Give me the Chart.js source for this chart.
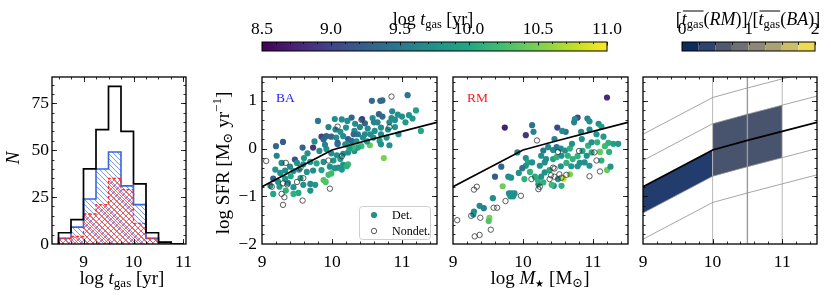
<!DOCTYPE html>
<html>
<head>
<meta charset="utf-8">
<title>gas depletion time panels</title>
<script src="https://cdn.jsdelivr.net/npm/chart.js@4.4.1/dist/chart.umd.min.js"></script>
<style>
  html, body { margin: 0; padding: 0; background: #ffffff; }
  #fig { position: relative; width: 831px; height: 300px; overflow: hidden; background: #ffffff; }
  #fig canvas { position: absolute; left: 0; top: 0; }
</style>
</head>
<body>
<div id="fig">
  <canvas id="cbarT" width="831" height="300"></canvas>
  <canvas id="cbarR" width="831" height="300"></canvas>
  <canvas id="hist" width="831" height="300"></canvas>
  <canvas id="ba" width="831" height="300"></canvas>
  <canvas id="rm" width="831" height="300"></canvas>
  <canvas id="ratio" width="831" height="300"></canvas>
</div>
<script>
// ---- histogram of log t_gas ----
const binEdges = [8.5, 8.75, 9.0, 9.25, 9.5, 9.75, 10.0, 10.25, 10.5, 10.75, 11.0];
const histAll = [1, 6, 13, 40, 61, 84, 60, 32, 6, 1];
const histBA  = [0, 3, 9, 24, 40, 49, 31, 21, 3, 0];
const histRM  = [1, 3, 4, 16, 21, 35, 29, 11, 3, 1];

// ---- star-forming main sequence and offsets ----
const msMass = [9.0, 10.0, 10.5, 11.0, 11.5];
const msSfr  = [-0.80, -0.03, 0.17, 0.36, 0.55];
const msOffsets = [1.1, 0.55, -0.55, -1.1];

// ---- BA sample ----
const baMass = [
  11.08, 10.57, 10.69, 10.72, 10.28, 10.43, 10.47, 10.58, 10.67, 10.72,
  10.86, 10.85, 10.94, 11.00, 11.15, 11.20, 11.27, 10.82, 10.70, 10.61,
  10.51, 10.32, 10.37, 10.31, 10.47, 10.59, 10.70, 10.78, 10.23, 10.28,
  10.44, 10.42, 10.54, 10.37, 10.32, 10.68, 10.70, 10.82, 10.74, 10.23,
  10.23, 9.80, 10.14, 10.22, 10.20, 9.85, 9.88, 9.92, 9.99, 10.06,
  10.16, 10.08, 10.19, 9.20, 9.30, 9.58, 9.73, 9.47, 9.82, 9.92,
  9.99, 10.07, 10.16, 9.21, 9.40, 9.59, 9.69, 9.78, 9.88, 9.97,
  10.04, 10.16, 9.95, 9.99, 9.88, 9.91, 9.19, 9.26, 9.33, 9.45,
  9.53, 9.64, 9.73, 9.16, 9.23, 9.33, 9.41, 9.59, 9.69, 9.76,
  9.37, 9.16, 9.34, 9.45, 9.52, 9.69, 10.09, 10.14, 10.21, 10.30,
  10.08, 10.21, 10.04, 10.90, 11.05, 10.95, 10.60, 10.50, 10.40, 10.33,
  10.12, 9.95, 9.65, 9.75, 9.60, 9.90, 10.02, 10.12, 9.55, 9.28,
  9.50, 9.85, 10.05, 10.25, 10.35, 10.55, 10.65, 10.80, 10.90, 11.10,
  9.45, 9.25, 9.12
];
const baSfr = [
  1.12, 1.00, 1.00, 1.01, 0.65, 0.62, 0.53, 0.64, 0.72, 0.67,
  0.78, 0.64, 0.71, 0.67, 0.63, 0.80, 0.37, 0.55, 0.44, 0.37,
  0.42, 0.37, 0.30, 0.30, 0.30, 0.23, 0.30, 0.23, 0.20, 0.16,
  0.23, 0.05, 0.07, 0.02, -0.05, 0.16, 0.09, 0.07, -0.20, -0.08,
  -0.33, 0.58, 0.61, 0.58, 0.44, 0.25, 0.19, 0.26, 0.25, 0.23,
  0.26, 0.12, 0.09, 0.05, 0.14, 0.02, 0.02, -0.23, -0.05, -0.01,
  -0.10, -0.14, -0.11, -0.15, -0.38, -0.33, -0.28, -0.31, -0.28, -0.38,
  -0.41, -0.34, -0.55, -0.52, -0.66, -0.70, -0.44, -0.51, -0.46, -0.47,
  -0.44, -0.49, -0.46, -0.63, -0.70, -0.63, -0.58, -0.76, -0.74, -0.76,
  -0.72, -0.95, -0.88, -0.81, -0.93, -0.88, -0.40, -0.44, -0.37, 0.02,
  0.09, 0.09, 0.62, 0.45, 0.55, 0.30, 0.55, 0.15, 0.45, 0.52,
  0.35, 0.45, -0.10, 0.15, -0.20, 0.08, -0.25, -0.22, -0.62, -0.30,
  -0.30, -0.45, 0.40, 0.00, 0.15, 0.30, 0.55, 0.40, 0.60, 0.70,
  -0.95, -0.80, -0.78
];
const baTgas = [
  9.5, 9.35, 9.35, 9.35, 9.3, 9.1, 9.3, 9.7, 9.3, 9.35,
  9.7, 9.7, 9.75, 9.75, 9.8, 9.9, 10.0, 9.7, 9.7, 9.75,
  9.7, 9.7, 9.5, 9.35, 9.7, 9.75, 9.7, 9.8, 9.2, 9.35,
  9.7, 10.2, 10.4, 10.0, 9.75, 9.9, 9.75, 9.75, 10.5, 9.75,
  10.2, 9.5, 9.7, 9.7, 9.75, 9.0, 9.35, 9.3, 9.35, 9.7,
  9.7, 9.2, 9.7, 9.3, 9.2, 9.3, 8.9, 9.1, 9.7, 9.75,
  9.7, 9.75, 9.7, 9.6, 9.7, 9.7, 9.75, 10.0, 9.75, 9.75,
  9.8, 9.75, 10.2, 10.2, 10.3, 10.3, 9.8, 9.75, 9.7, 9.75,
  9.7, 9.8, 9.7, 9.2, 9.75, 9.8, 10.0, 9.75, 9.7, 9.8,
  9.7, 10.0, 10.1, 9.75, 10.0, 9.75, 9.75, 9.8, 10.1, 10.2,
  9.4, 9.75, 9.75, 9.8, 9.85, 9.8, 9.6, 9.8, 9.6, 9.7,
  9.75, 9.6, 9.75, 9.7, 9.8, 9.6, 9.8, 9.9, 9.85, 9.7,
  9.75, 9.9, 9.6, 9.9, 9.75, 9.7, 9.65, 9.75, 9.7, 9.8,
  10.1, 9.9, 9.7
];
const baNdMass = [10.85, 10.08, 10.42, 10.82, 10.14, 9.95, 9.06, 9.34, 9.30, 9.50,
  9.59, 9.14, 9.28, 9.30, 9.32, 9.58, 9.97, 9.55, 9.36];
const baNdSfr = [1.09, 0.46, 0.60, 0.45, -0.16, -0.25, -0.26, -0.30, -0.73, -0.70,
  -0.62, -0.80, -0.95, -1.18, -1.02, -1.09, -0.84, -0.40, -0.75];

// ---- RM sample ----
const rmMass = [
  11.20, 9.74, 10.04, 10.49, 10.78, 10.13, 10.15, 9.92, 10.04, 10.07,
  10.04, 10.13, 9.99, 10.10, 10.02, 9.94, 9.69, 9.60, 9.79, 9.83,
  10.17, 10.22, 9.71, 9.80, 9.84, 9.88, 9.57, 9.38, 9.30, 9.52,
  10.74, 10.73, 10.92, 10.95, 10.61, 10.56, 10.83, 10.84, 11.08, 11.12,
  10.29, 10.36, 10.43, 10.48, 10.54, 10.60, 10.67, 10.93, 10.98, 11.06,
  11.10, 11.17, 11.22, 11.29, 11.36, 11.23, 10.98, 10.91, 10.26, 10.33,
  10.43, 10.48, 10.55, 10.64, 10.71, 10.81, 11.12, 10.24, 10.31, 10.54,
  10.62, 10.69, 10.78, 10.88, 10.95, 10.21, 10.26, 10.29, 10.31, 10.58,
  10.67, 10.50, 10.44, 10.55, 10.41, 11.20, 11.25, 9.82, 9.86, 9.44,
  9.29, 9.51, 11.05, 11.15, 10.70, 10.45, 10.38, 10.85, 10.78, 10.95
];
const rmSfr = [
  1.07, 0.44, 0.28, 0.44, 0.65, 0.49, 0.35, -0.08, -0.20, -0.29,
  -0.36, -0.29, -0.41, -0.49, -0.64, -0.51, -0.38, -0.59, -0.59, -0.61,
  -0.59, -0.75, -0.79, -0.94, -0.94, -0.94, -1.04, -1.20, -1.32, -1.45,
  0.62, 0.55, 0.63, 0.57, 0.35, 0.37, 0.35, 0.20, 0.52, 0.46,
  -0.04, 0.03, -0.03, 0.03, 0.00, -0.04, 0.00, 0.06, 0.13, 0.13,
  -0.07, 0.05, 0.12, 0.10, 0.10, -0.07, -0.08, -0.15, -0.15, -0.22,
  -0.22, -0.18, -0.15, -0.15, -0.22, -0.30, -0.25, -0.36, -0.29, -0.37,
  -0.30, -0.37, -0.37, -0.29, -0.36, -0.66, -0.59, -0.71, -0.50, -0.63,
  -0.54, -0.64, -0.78, -0.78, -0.76, -0.45, -0.38, -1.00, -1.00, -1.25,
  -1.38, -1.52, 0.30, 0.25, 0.10, 0.20, -0.45, -0.05, -0.16, 0.40
];
const rmTgas = [
  8.8, 8.7, 8.9, 9.0, 9.05, 9.45, 9.6, 9.6, 9.75, 10.0,
  9.8, 9.75, 9.45, 10.1, 10.1, 9.75, 9.3, 9.2, 9.7, 9.75,
  10.05, 9.75, 10.45, 9.7, 9.7, 9.75, 9.7, 9.65, 9.7, 10.5,
  9.7, 9.6, 9.6, 9.7, 9.5, 9.7, 9.7, 9.75, 9.7, 9.9,
  9.5, 9.7, 9.75, 9.5, 9.7, 9.75, 10.1, 10.1, 9.75, 10.1,
  10.4, 10.2, 10.1, 9.9, 9.8, 10.1, 10.05, 9.75, 9.75, 9.75,
  9.9, 10.1, 9.75, 10.1, 10.1, 9.75, 10.1, 9.75, 9.7, 9.75,
  10.1, 9.8, 9.75, 9.75, 9.8, 10.1, 9.75, 10.1, 9.75, 10.75,
  10.5, 9.75, 9.75, 10.1, 10.2, 10.4, 9.8, 9.75, 9.75, 9.6,
  9.7, 10.3, 9.8, 9.85, 9.75, 9.6, 10.0, 10.0, 10.1, 9.7
];
const rmNdMass = [10.20, 10.12, 9.97, 9.75, 9.30, 9.34, 9.58, 9.63, 9.26, 9.39,
  9.06, 9.54, 9.31, 9.38, 10.50, 10.80, 11.02, 11.05, 10.43, 10.45,
  10.40, 10.45, 10.52, 10.55, 10.38, 10.24, 10.22, 10.95, 11.10, 10.62];
const rmNdSfr = [0.17, -0.64, -0.99, -1.10, -0.86, -0.80, -1.24, -1.24, -1.41, -1.45,
  -1.50, -1.70, -1.84, -1.81, -0.07, -0.05, -0.08, -0.25, -0.40, -0.42,
  -0.56, -0.59, -0.54, -0.61, -0.64, -0.80, -0.85, -0.58, -0.48, -0.55];

// ---- t_gas(RM)/t_gas(BA) in mass bins ----
const cellMassLo = [9.0, 10.0];
const cellMassHi = [10.0, 11.0];
const cellOffLo = [-0.55, -0.55];
const cellOffHi = [0.0, 0.55];
const cellRatio = [0.3, 0.56];
const massGuides = [10.0, 10.5, 11.0];

// ---- axes ----
const massRange = [9.0, 11.5];
const sfrRange = [-2.0, 1.5];
const tgasRange = [8.5, 11.0];
const histXRange = [8.37, 11.05];
const histYRange = [0, 89];
const massTicks = [9, 10, 11];
const sfrTicks = [-2, -1, 0, 1];
const countTicks = [0, 25, 50, 75];
const tgasTicks = [8.5, 9.0, 9.5, 10.0, 10.5, 11.0];
const ratioTicks = [0, 1, 2];
const ratioLevels = [0, 0.25, 0.5, 0.75, 1.0, 1.25, 1.5, 1.75, 2.0];

const VIRIDIS = ['#440154', '#482475', '#414487', '#355f8d', '#2a788e', '#21918c',
  '#22a884', '#44bf70', '#7ad151', '#bddf26', '#fde725'];
const CIVIDIS = ['#00204d', '#1a386f', '#414d6b', '#5f6472', '#7c7b78',
  '#9a9476', '#bcaf6f', '#ddcb5c', '#ffea46'];

const SERIF = '"Liberation Serif", "DejaVu Serif", "Times New Roman", serif';
Chart.defaults.font.family = SERIF;
Chart.defaults.color = '#000';

const W = 831, H = 300, AXW = 40, AXH = 40;
const TICK = 17.5;
const TITLE = 19;
const fnt = (sz, it) => (it ? 'italic ' : '') + sz + 'px ' + SERIF;

function hexRgb(h) {
  const n = parseInt(h.slice(1), 16);
  return [n >> 16 & 255, n >> 8 & 255, n & 255];
}
function cmap(stops, t) {
  t = Math.max(0, Math.min(1, t));
  const n = stops.length - 1;
  const i = Math.min(n - 1, Math.floor(t * n));
  const f = t * n - i;
  const a = hexRgb(stops[i]), b = hexRgb(stops[i + 1]);
  return 'rgb(' + a.map((v, k) => Math.round(v + (b[k] - v) * f)).join(',') + ')';
}
const tgasColor = v => cmap(VIRIDIS, (v - tgasRange[0]) / (tgasRange[1] - tgasRange[0]));
const ratioColor = r => cmap(CIVIDIS, (r - ratioLevels[0]) / (ratioLevels[ratioLevels.length - 1] - ratioLevels[0]));

// text with italic / sub / superscript pieces
function rich(ctx, segs, x, y, align, rot) {
  ctx.save();
  ctx.translate(x, y);
  if (rot) ctx.rotate(rot);
  ctx.textBaseline = 'alphabetic';
  ctx.textAlign = 'left';
  let total = 0;
  segs.forEach(s => { ctx.font = fnt(s.sz, s.it); s.w = ctx.measureText(s.t).width; total += s.w; });
  let cx = align === 'center' ? -total / 2 : (align === 'right' ? -total : 0);
  let olFrom = null;
  segs.forEach((s, i) => {
    ctx.font = fnt(s.sz, s.it);
    ctx.fillStyle = s.c || '#000';
    ctx.fillText(s.t, cx, s.dy || 0);
    if (s.ol && olFrom === null) olFrom = cx;
    cx += s.w;
    if (s.ol && !(segs[i + 1] && segs[i + 1].ol)) {
      ctx.strokeStyle = '#000';
      ctx.lineWidth = 1;
      ctx.beginPath();
      ctx.moveTo(olFrom + 1, -s.ol);
      ctx.lineTo(cx, -s.ol);
      ctx.stroke();
      olFrom = null;
    }
  });
  ctx.restore();
}

function steps(lo, hi, d) {
  const out = [];
  for (let k = 0; lo + k * d <= hi + 1e-9; k++) out.push(+(lo + k * d).toFixed(4));
  return out;
}

function axis(range, vals, o) {
  return {
    type: 'linear', min: range[0], max: range[1], position: o.pos,
    grid: { display: false, drawTicks: false },
    border: { display: false },
    ticks: {
      display: o.labels !== false, padding: o.pad || 0,
      font: { family: SERIF, size: TICK }, color: '#000',
      maxRotation: 0, autoSkip: false, includeBounds: false,
      callback: o.fmt || (v => (v < 0 ? '\u2212' + Math.abs(v) : String(v)))
    },
    afterBuildTicks: s => { s.ticks = vals.map(v => ({ value: v })); },
    afterFit: s => {
      if (s.isHorizontal()) s.height = o.size; else s.width = o.size;
      s.paddingLeft = s.paddingRight = s.paddingTop = s.paddingBottom = 0;
    }
  };
}

function baseOptions(area, x, y) {
  const top = x.position === 'top';
  return {
    responsive: false, animation: false, devicePixelRatio: 1, events: [],
    layout: {
      autoPadding: false,
      padding: {
        left: area.l - (y.display === false ? 0 : AXW),
        right: W - area.r,
        top: top ? area.t - AXH : area.t,
        bottom: top ? H - area.b : H - area.b - AXH
      }
    },
    plugins: { legend: { display: false }, tooltip: { enabled: false } },
    scales: { x: x, y: y }
  };
}

// inward ticks on all four sides plus the frame
function frame(xMaj, xMin, yMaj, yMin) {
  return {
    id: 'frame',
    afterDatasetsDraw(chart) {
      const { ctx, chartArea: a } = chart;
      const sx = chart.scales.x, sy = chart.scales.y;
      ctx.save();
      ctx.strokeStyle = '#000';
      ctx.lineWidth = 0.8;
      ctx.beginPath();
      const vx = (vals, len) => vals.forEach(v => {
        const p = Math.round(sx.getPixelForValue(v)) + 0.5;
        if (p <= a.left + 1 || p >= a.right - 1) return;
        ctx.moveTo(p, a.bottom); ctx.lineTo(p, a.bottom - len);
        ctx.moveTo(p, a.top); ctx.lineTo(p, a.top + len);
      });
      const vy = (vals, len) => vals.forEach(v => {
        const p = Math.round(sy.getPixelForValue(v)) + 0.5;
        if (p <= a.top + 1 || p >= a.bottom - 1) return;
        ctx.moveTo(a.left, p); ctx.lineTo(a.left + len, p);
        ctx.moveTo(a.right, p); ctx.lineTo(a.right - len, p);
      });
      vx(xMaj, 5); vx(xMin, 2.5); vy(yMaj, 5); vy(yMin, 2.5);
      ctx.stroke();
      ctx.lineWidth = 1.3;
      ctx.strokeRect(a.left, a.top, a.right - a.left, a.bottom - a.top);
      ctx.restore();
    }
  };
}

function hatch(color, cross, size) {
  const c = document.createElement('canvas');
  c.width = c.height = size;
  const g = c.getContext('2d');
  g.strokeStyle = color;
  g.lineWidth = 0.9;
  g.beginPath();
  for (let k = -1; k <= 1; k++) {
    g.moveTo(k * size, 0); g.lineTo(k * size + size, size);
    if (cross) { g.moveTo(k * size, size); g.lineTo(k * size + size, 0); }
  }
  g.stroke();
  return g.createPattern(c, 'repeat');
}

function stepPts(counts) {
  const pts = [{ x: binEdges[0], y: 0 }];
  counts.forEach((c, i) => pts.push({ x: binEdges[i], y: c }));
  pts.push({ x: binEdges[binEdges.length - 1], y: 0 });
  return pts;
}

const msLine = (off) => msMass.map((m, i) => ({ x: m, y: msSfr[i] + off }));

const PANEL_T = 77, PANEL_B = 244;
const areas = {
  hist: { l: 52, r: 186, t: PANEL_T, b: PANEL_B },
  ba: { l: 262, r: 437, t: PANEL_T, b: PANEL_B },
  rm: { l: 453, r: 628, t: PANEL_T, b: PANEL_B },
  ratio: { l: 643, r: 817, t: PANEL_T, b: PANEL_B },
  cbarT: { l: 262, r: 607, t: 42, b: 51 },
  cbarR: { l: 682, r: 815, t: 42, b: 51 }
};

// ---------- histogram ----------
new Chart(document.getElementById('hist'), {
  type: 'line',
  data: {
    datasets: [
      { data: stepPts(histAll), stepped: 'after', borderColor: '#000', borderWidth: 1.7,
        pointRadius: 0, fill: false, order: 0 },
      { data: stepPts(histRM), stepped: 'after', borderColor: '#ff2a2a', borderWidth: 1.3,
        borderDash: [3, 2], pointRadius: 0, fill: 'origin',
        backgroundColor: hatch('rgba(240,60,60,0.85)', true, 6), order: 1 },
      { data: stepPts(histBA), stepped: 'after', borderColor: '#3366e6', borderWidth: 1.6,
        pointRadius: 0, fill: 'origin',
        backgroundColor: hatch('rgba(60,105,230,0.75)', false, 5), order: 2 }
    ]
  },
  options: baseOptions(areas.hist,
    axis(histXRange, [9, 10, 11], { pos: 'bottom', size: AXH, pad: 8 }),
    axis(histYRange, countTicks, { pos: 'left', size: AXW, pad: 3 })),
  plugins: [frame([9, 10, 11], steps(8.5, 11, 0.25), countTicks, steps(0, 85, 5)), {
    id: 'txt',
    afterDraw(chart) {
      const ctx = chart.ctx;
      rich(ctx, [{ t: 'log ', sz: TITLE }, { t: 't', sz: TITLE, it: true }, { t: 'gas', sz: 13, dy: 3 },
        { t: ' [yr]', sz: TITLE }], 122, 284, 'center');
      rich(ctx, [{ t: 'N', sz: TITLE, it: true }], 19, 158, 'center', -Math.PI / 2);
    }
  }]
});

// ---------- scatter panels ----------
function scatterPanel(id, area, mass, sfr, tgas, ndMass, ndSfr, tag, tagColor, withY, extra) {
  const x = axis(massRange, massTicks, { pos: 'bottom', size: AXH, pad: 8 });
  const y = axis(sfrRange, sfrTicks, { pos: 'left', size: AXW, pad: 5, labels: withY });
  new Chart(document.getElementById(id), {
    type: 'line',
    data: {
      datasets: [
        { data: msLine(0), borderColor: '#000', borderWidth: 1.6, pointRadius: 0, fill: false, order: 0 },
        { data: ndMass.map((m, i) => ({ x: m, y: ndSfr[i] })), showLine: false,
          pointRadius: 2.7, pointBackgroundColor: 'rgba(255,255,255,0)',
          pointBorderColor: '#333333', pointBorderWidth: 0.8, order: 1 },
        { data: mass.map((m, i) => ({ x: m, y: sfr[i] })), showLine: false,
          pointRadius: 3.1, pointBorderWidth: 0,
          pointBackgroundColor: tgas.map(tgasColor), order: 2 }
      ]
    },
    options: baseOptions(area, x, y),
    plugins: [frame(massTicks, steps(9, 11.4, 0.2), sfrTicks, steps(-2, 1.4, 0.2)), {
      id: 'txt',
      afterDraw(chart) {
        const ctx = chart.ctx;
        ctx.save();
        ctx.font = fnt(13.5);
        ctx.fillStyle = tagColor;
        ctx.textBaseline = 'alphabetic';
        ctx.fillText(tag, area.l + 14, 102);
        ctx.restore();
        if (extra) extra(ctx);
      }
    }]
  });
}

scatterPanel('ba', areas.ba, baMass, baSfr, baTgas, baNdMass, baNdSfr, 'BA', '#1a1aff', true, ctx => {
  rich(ctx, [{ t: 'log SFR [M', sz: TITLE }, { t: '\u2299', sz: 13, dy: 3 }, { t: ' yr', sz: TITLE },
    { t: '\u22121', sz: 13, dy: -8 }, { t: ']', sz: TITLE }], 229, 163, 'center', -Math.PI / 2);
  // legend
  ctx.save();
  const lx = 359.5, ly = 206.5, lw = 71, lh = 33, r = 3;
  ctx.beginPath();
  ctx.moveTo(lx + r, ly);
  ctx.arcTo(lx + lw, ly, lx + lw, ly + lh, r);
  ctx.arcTo(lx + lw, ly + lh, lx, ly + lh, r);
  ctx.arcTo(lx, ly + lh, lx, ly, r);
  ctx.arcTo(lx, ly, lx + lw, ly, r);
  ctx.closePath();
  ctx.fillStyle = 'rgba(255,255,255,0.85)';
  ctx.fill();
  ctx.strokeStyle = '#cfcfcf';
  ctx.lineWidth = 1;
  ctx.stroke();
  ctx.fillStyle = tgasColor(9.75);
  ctx.beginPath(); ctx.arc(374, 215, 3.1, 0, Math.PI * 2); ctx.fill();
  ctx.strokeStyle = '#333333'; ctx.lineWidth = 0.8;
  ctx.beginPath(); ctx.arc(374, 231, 2.7, 0, Math.PI * 2); ctx.stroke();
  ctx.fillStyle = '#000';
  ctx.font = fnt(12);
  ctx.fillText('Det.', 392, 219);
  ctx.fillText('Nondet.', 392, 235);
  ctx.restore();
});

scatterPanel('rm', areas.rm, rmMass, rmSfr, rmTgas, rmNdMass, rmNdSfr, 'RM', '#ff1a1a', false, ctx => {
  rich(ctx, [{ t: 'log ', sz: TITLE }, { t: 'M', sz: TITLE, it: true }, { t: '\u2605', sz: 10, dy: 3 },
    { t: ' [M', sz: TITLE }, { t: '\u2299', sz: 13, dy: 3 }, { t: ']', sz: TITLE }], 540, 284, 'center');
});

// ---------- ratio panel ----------
const ratioSets = [];
cellMassLo.forEach((lo, i) => {
  const hi = cellMassHi[i];
  const pick = off => msLine(off).filter(p => p.x >= lo && p.x <= hi);
  ratioSets.push({ data: pick(cellOffLo[i]), borderWidth: 0, pointRadius: 0, fill: false, order: 10 });
  ratioSets.push({ data: pick(cellOffHi[i]), borderWidth: 0, pointRadius: 0, fill: '-1',
    backgroundColor: ratioColor(cellRatio[i]), order: 10 });
});
massGuides.forEach(v => {
  ratioSets.push({ data: [{ x: v, y: sfrRange[0] }, { x: v, y: sfrRange[1] }],
    borderColor: v === 10.5 ? '#9a9a9a' : '#b0b0b0', borderWidth: v === 10.5 ? 1.4 : 0.9,
    pointRadius: 0, fill: false, order: 5 });
});
msOffsets.forEach(off => {
  ratioSets.push({ data: msLine(off), borderColor: '#8f8f8f', borderWidth: 0.8,
    pointRadius: 0, fill: false, order: 3 });
});
ratioSets.push({ data: msLine(0), borderColor: '#000', borderWidth: 1.8, pointRadius: 0, fill: false, order: 0 });

new Chart(document.getElementById('ratio'), {
  type: 'line',
  data: { datasets: ratioSets },
  options: baseOptions(areas.ratio,
    axis(massRange, massTicks, { pos: 'bottom', size: AXH, pad: 8 }),
    axis(sfrRange, sfrTicks, { pos: 'left', size: AXW, labels: false })),
  plugins: [frame(massTicks, steps(9, 11.4, 0.2), sfrTicks, steps(-2, 1.4, 0.2))]
});

// ---------- colour bars ----------
new Chart(document.getElementById('cbarT'), {
  type: 'line',
  data: { datasets: [] },
  options: baseOptions(areas.cbarT,
    axis(tgasRange, tgasTicks, { pos: 'top', size: AXH, pad: 2, fmt: v => v.toFixed(1) }),
    { display: false, min: 0, max: 1 }),
  plugins: [{
    id: 'bar',
    afterDraw(chart) {
      const { ctx, chartArea: a } = chart, sx = chart.scales.x;
      ctx.save();
      for (let px = a.left; px < a.right; px++) {
        ctx.fillStyle = tgasColor(sx.getValueForPixel(px + 0.5));
        ctx.fillRect(px, a.top, 1, a.bottom - a.top);
      }
      ctx.strokeStyle = '#000';
      ctx.lineWidth = 0.8;
      ctx.beginPath();
      steps(tgasRange[0], tgasRange[1], 0.1).forEach(v => {
        const p = Math.round(sx.getPixelForValue(v)) + 0.5;
        const len = tgasTicks.some(t => Math.abs(t - v) < 1e-6) ? 3.5 : 2;
        ctx.moveTo(p, a.top); ctx.lineTo(p, a.top + len);
      });
      ctx.stroke();
      ctx.lineWidth = 1;
      ctx.strokeRect(a.left, a.top, a.right - a.left, a.bottom - a.top);
      ctx.restore();
      rich(ctx, [{ t: 'log ', sz: 18 }, { t: 't', sz: 18, it: true }, { t: 'gas', sz: 12.5, dy: 3 },
        { t: ' [yr]', sz: 18 }], 433, 25, 'center');
    }
  }]
});

new Chart(document.getElementById('cbarR'), {
  type: 'line',
  data: { datasets: [] },
  options: baseOptions(areas.cbarR,
    axis([ratioLevels[0], ratioLevels[ratioLevels.length - 1]], ratioTicks, { pos: 'top', size: AXH, pad: 2 }),
    { display: false, min: 0, max: 1 }),
  plugins: [{
    id: 'bar',
    afterDraw(chart) {
      const { ctx, chartArea: a } = chart, sx = chart.scales.x;
      ctx.save();
      for (let i = 0; i < ratioLevels.length - 1; i++) {
        const x0 = sx.getPixelForValue(ratioLevels[i]);
        const x1 = sx.getPixelForValue(ratioLevels[i + 1]);
        ctx.fillStyle = ratioColor((ratioLevels[i] + ratioLevels[i + 1]) / 2);
        ctx.fillRect(x0, a.top, x1 - x0, a.bottom - a.top);
      }
      ctx.strokeStyle = '#000';
      ctx.lineWidth = 0.8;
      ctx.beginPath();
      ratioLevels.forEach(v => {
        const p = Math.round(sx.getPixelForValue(v)) + 0.5;
        ctx.moveTo(p, a.top); ctx.lineTo(p, a.top + 3);
      });
      ctx.stroke();
      ctx.lineWidth = 1;
      ctx.strokeRect(a.left, a.top, a.right - a.left, a.bottom - a.top);
      ctx.restore();
      rich(ctx, [{ t: '[', sz: 18 }, { t: 't', sz: 18, it: true, ol: 14 }, { t: 'gas', sz: 12.5, dy: 3, ol: 14 },
        { t: '(', sz: 18 }, { t: 'RM', sz: 18, it: true }, { t: ')]/[', sz: 18 },
        { t: 't', sz: 18, it: true, ol: 14 }, { t: 'gas', sz: 12.5, dy: 3, ol: 14 },
        { t: '(', sz: 18 }, { t: 'BA', sz: 18, it: true }, { t: ')]', sz: 18 }], 748, 25, 'center');
    }
  }]
});
</script>
</body>
</html>
